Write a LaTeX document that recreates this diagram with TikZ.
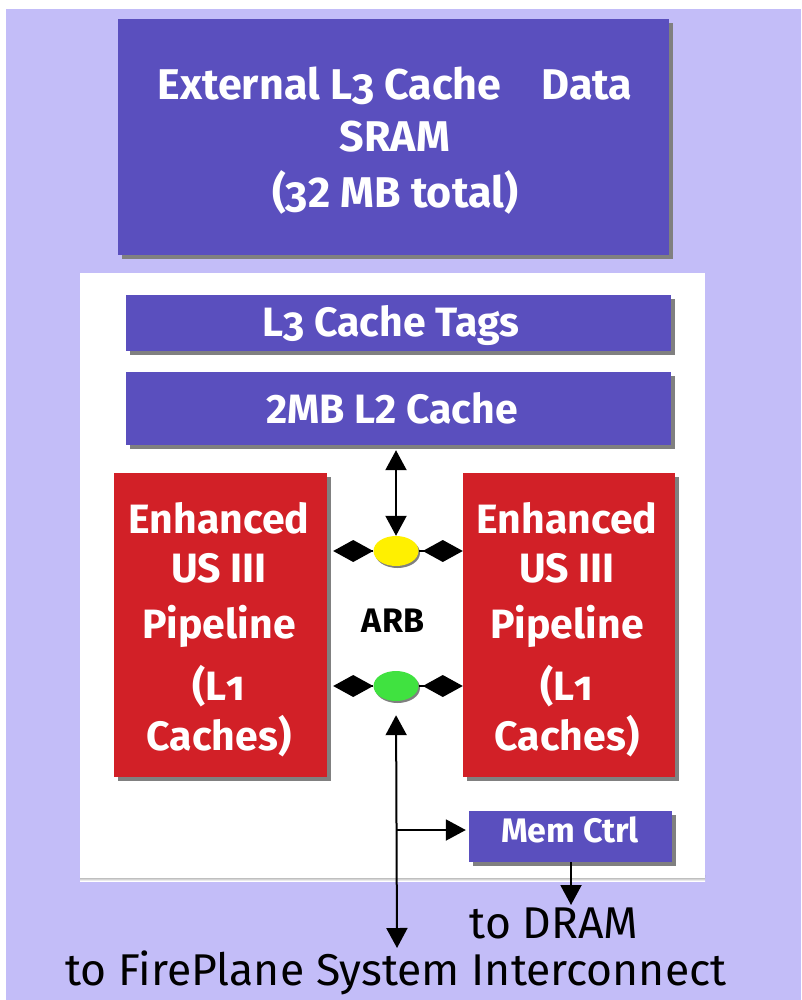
\documentclass[tikz,border=0pt]{standalone}
\usepackage{fontspec}
\setmainfont{Fira Sans}
\usetikzlibrary{arrows.meta,shadows,shapes.geometric}

\definecolor{lav}{RGB}{195,189,248}
\definecolor{chipblue}{RGB}{90,79,190}
\definecolor{pipered}{RGB}{210,32,39}
\definecolor{shade}{RGB}{128,128,128}
\definecolor{arbyellow}{RGB}{255,240,0}
\definecolor{arbgreen}{RGB}{64,226,64}

% old-style figures for the descending 3 and the short 1
\newcommand\oldnum[1]{{\addfontfeature{Numbers=OldStyle}#1}}

\tikzset{
  blk/.style={draw=none, inner sep=0pt,
    drop shadow={shadow xshift=4pt, shadow yshift=-4pt, fill=shade, opacity=1}},
  bluebox/.style={blk, fill=chipblue},
  redbox/.style={blk, fill=pipered},
  % multi-line labels are anchored on the baseline of their last line
  wtxt/.style={text=white, align=center, anchor=base, inner sep=0pt,
    font=\bfseries\fontsize{41}{49}\selectfont},
  btxt/.style={text=black, align=center, anchor=base, inner sep=0pt,
    font=\fontsize{44.5}{50}\selectfont},
  arbnode/.style={ellipse, draw=none, minimum width=45pt, minimum height=30pt, inner sep=0pt,
    drop shadow={shadow xshift=1.5pt, shadow yshift=-2pt, fill=shade, opacity=1}},
  link/.style={line width=2pt, draw=black},
  tri/.tip={Triangle[length=20pt,width=21pt]},
  dia/.tip={Diamond[length=40pt,width=22pt]},
}

\begin{document}
\begin{tikzpicture}[x=1pt, y=-1pt]
  \useasboundingbox (0,0) rectangle (801,1000);
  % page ground
  \fill[white] (0,0) rectangle (801,1000);
  \fill[lav] (6,9) rectangle (801,1000);

  % external SRAM
  \node[bluebox, minimum width=551pt, minimum height=236pt] (sram) at (393.5,137) {};
  \node[wtxt, font=\bfseries\fontsize{43}{52}\selectfont] (sramtxt) at (395,208)
    {External L\oldnum{3} Cache\hspace{40pt}Data\\SRAM\\[4pt](\oldnum{3}2 MB total)};

  % processor die
  \fill[shade] (80,875) rectangle (705,881);
  \fill[white] (80,273) rectangle (705,878);

  \node[bluebox, minimum width=545pt, minimum height=56pt] (tags) at (398.5,323) {};
  \node[wtxt] (tagstxt) at (391,336) {L\oldnum{3} Cache Tags};

  \node[bluebox, minimum width=545pt, minimum height=73pt] (l2) at (398.5,408.5) {};
  \node[wtxt] (l2txt) at (392,423) {2MB L2 Cache};

  \node[redbox, minimum width=213pt, minimum height=304pt] (lpipe) at (220.5,625) {};
  \node[wtxt] (lpipetxt) at (219,750)
    {Enhanced\\US III\\[7pt]Pipeline\\[13pt](L\oldnum{1}\\[1pt]Caches)};

  \node[redbox, minimum width=212pt, minimum height=304pt] (rpipe) at (569,625) {};
  \node[wtxt] (rpipetxt) at (567,750)
    {Enhanced\\US III\\[7pt]Pipeline\\[13pt](L\oldnum{1}\\[1pt]Caches)};

  % arbiter
  \node[arbnode, fill=arbyellow] (arbtop) at (396,551) {};
  \node[arbnode, fill=arbgreen] (arbbot) at (396,686) {};
  \node[anchor=base, inner sep=0pt, font=\bfseries\fontsize{34}{40}\selectfont] (arb) at (393,632) {ARB};

  \node[bluebox, minimum width=203pt, minimum height=51pt] (mem) at (570.5,836.5) {};
  \node[wtxt, font=\bfseries\fontsize{34}{42}\selectfont] (memtxt) at (570,842) {Mem Ctrl};

  % outside destinations
  \node[btxt] (dram) at (554,938) {to DRAM};
  \node[btxt] (fire) at (396,985) {to FirePlane System Interconnect};
  \coordinate (fireend) at (397,948);
  \coordinate (dramend) at (571,905);
  \coordinate (branch) at (397,830);

  % connectors
  \draw[link, {tri}-{tri}] (arbtop.north |- l2.south) ++(0,5) -- (arbtop.north);
  \draw[link, -{dia}] (arbtop.west) -- (arbtop.west -| lpipe.east) [shorten >=6pt];
  \draw[link, -{dia}] (arbtop.east) -- (arbtop.east -| rpipe.west);
  \draw[link, -{dia}] (arbbot.west) -- (arbbot.west -| lpipe.east) [shorten >=6pt];
  \draw[link, -{dia}] (arbbot.east) -- (arbbot.east -| rpipe.west);
  \draw[link, {tri}-{tri}, shorten <=14pt] (arbbot.south) -- (fireend);
  \draw[link, -{tri}, shorten >=3pt] (branch) -- (mem.west |- branch);
  \draw[link, -{tri}] (mem.south -| dramend) -- (dramend);
\end{tikzpicture}
\end{document}
